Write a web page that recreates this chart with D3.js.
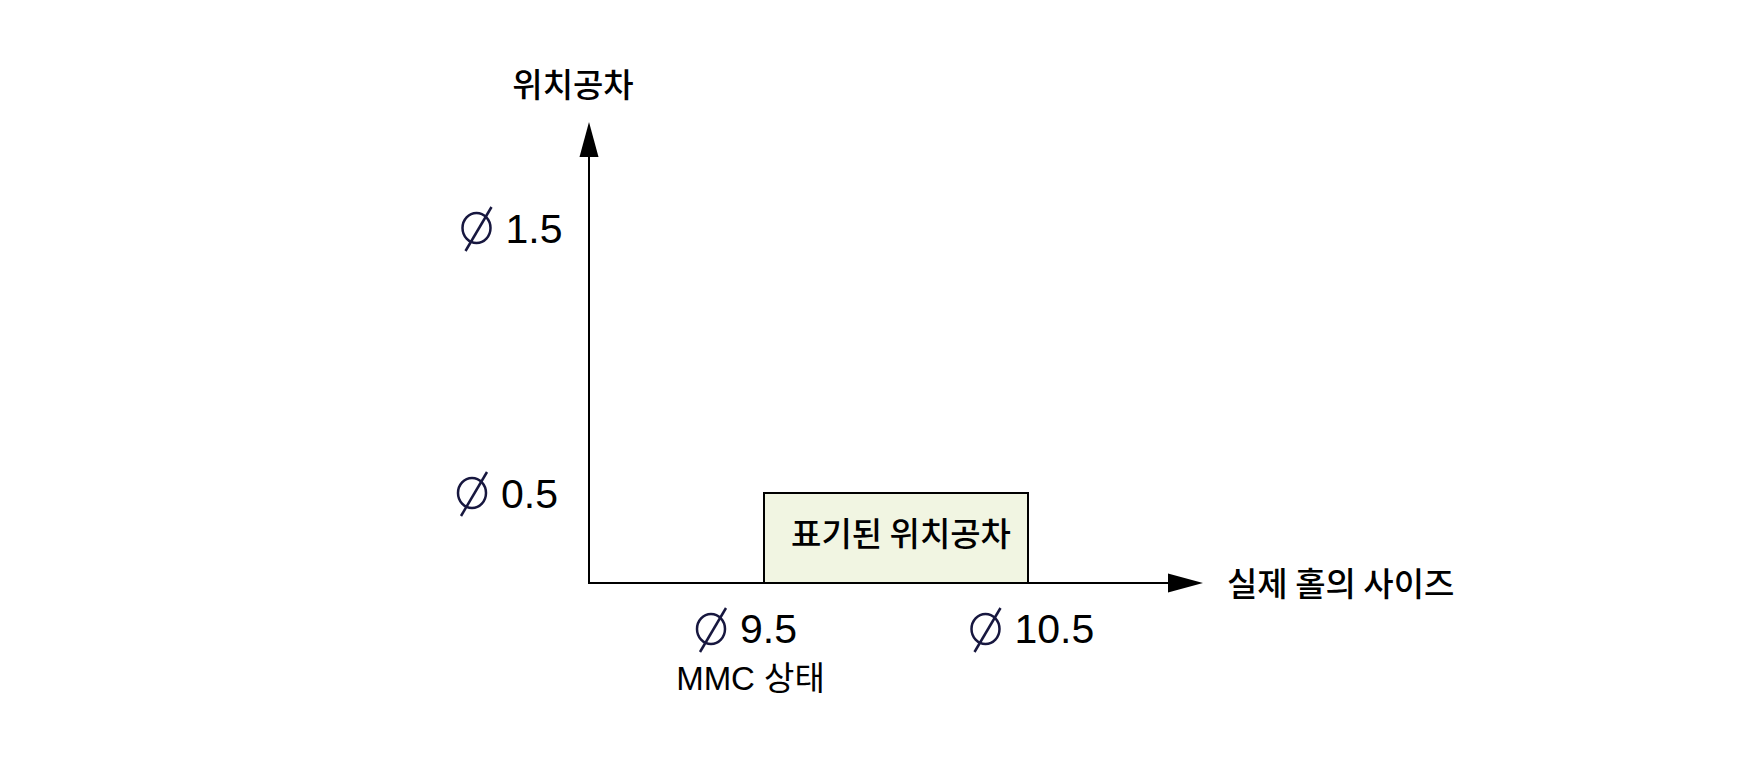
<!DOCTYPE html>
<html>
<head>
<meta charset="utf-8">
<script src="https://cdn.jsdelivr.net/npm/d3@7"></script>
<style>
  html, body { margin: 0; padding: 0; background: #ffffff; }
  svg { display: block; }
</style>
</head>
<body>
<svg id="chart" width="1758" height="780"></svg>
<script>
// ---------- data ----------
const xTicks = [9.5, 10.5];
const xTickLabels = ["9.5", "10.5"];
const yTicks = [0.5, 1.5];
const yTickLabels = ["0.5", "1.5"];
const boxX = [9.5, 10.5];          // stated tolerance zone along hole size
const boxY = [0, 0.5];             // tolerance 0 .. 0.5
const boxLabel = "표기된 위치공차";
const yTitle = "위치공차";
const xTitle = "실제 홀의 사이즈";
const mmcLabel = "MMC 상태";

// ---------- layout ----------
const W = 1758, H = 780;
const originX = 589, originY = 583;
const xTipX = 1203, yTipY = 122;
const arrowLen = 35, arrowHalf = 9.5;
const digitFont = "'Liberation Sans', Arial, sans-serif";
const krFont = "'Noto Sans CJK KR', 'Noto Sans', sans-serif";
const krSize = 33, krWeight = 500;
const digitSize = 41;
const phiColor = "#17173f";

const svg = d3.select("#chart");

const x = d3.scaleLinear().domain([9.5, 10.5]).range([764, 1028]);
const y = d3.scaleLinear().domain([0, 0.5, 1.5]).range([originY, 493, 228]);

// box (tolerance zone)
svg.append("rect")
  .attr("x", x(boxX[0]))
  .attr("y", y(boxY[1]))
  .attr("width", x(boxX[1]) - x(boxX[0]))
  .attr("height", y(boxY[0]) - y(boxY[1]))
  .attr("fill", "#f1f5e2")
  .attr("stroke", "#000")
  .attr("stroke-width", 2);

svg.append("text")
  .attr("x", (x(boxX[0]) + x(boxX[1])) / 2 + 5)
  .attr("y", 546)
  .attr("text-anchor", "middle")
  .attr("font-family", krFont)
  .attr("font-size", krSize)
  .attr("font-weight", krWeight)
  .attr("fill", "#000")
  .text(boxLabel);

// axes with arrowheads
const axisG = svg.append("g");
axisG.append("line")
  .attr("x1", originX).attr("y1", originY)
  .attr("x2", originX).attr("y2", yTipY + arrowLen)
  .attr("stroke", "#000").attr("stroke-width", 2);
axisG.append("path")
  .attr("d", `M${originX},${yTipY} L${originX - arrowHalf},${yTipY + arrowLen} L${originX + arrowHalf},${yTipY + arrowLen} Z`)
  .attr("fill", "#000");
axisG.append("line")
  .attr("x1", originX - 1).attr("y1", originY)
  .attr("x2", xTipX - arrowLen).attr("y2", originY)
  .attr("stroke", "#000").attr("stroke-width", 2);
axisG.append("path")
  .attr("d", `M${xTipX},${originY} L${xTipX - arrowLen},${originY - arrowHalf} L${xTipX - arrowLen},${originY + arrowHalf} Z`)
  .attr("fill", "#000");

// diameter symbol
function phi(g, cx, cy) {
  g.append("ellipse")
    .attr("cx", cx).attr("cy", cy)
    .attr("rx", 14).attr("ry", 15)
    .attr("fill", "none")
    .attr("stroke", phiColor)
    .attr("stroke-width", 2.5);
  g.append("line")
    .attr("x1", cx - 11).attr("y1", cy + 23)
    .attr("x2", cx + 15).attr("y2", cy - 21)
    .attr("stroke", phiColor)
    .attr("stroke-width", 2.5);
}

// y tick labels
const yNudge = [-88, -83.5];
yTicks.forEach((v, i) => {
  const g = svg.append("g").attr("class", "ytick");
  const tx = originX + yNudge[i];
  const cy = y(v);
  phi(g, tx - 29, cy);
  g.append("text")
    .attr("x", tx).attr("y", cy + 14.5)
    .attr("font-family", digitFont)
    .attr("font-size", digitSize)
    .attr("fill", "#000")
    .text(yTickLabels[i]);
});

// x tick labels
const xNudge = [-24, -13.5];
const xLabelCY = 629;
xTicks.forEach((v, i) => {
  const g = svg.append("g").attr("class", "xtick");
  const tx = x(v) + xNudge[i];
  phi(g, tx - 29, xLabelCY);
  g.append("text")
    .attr("x", tx).attr("y", xLabelCY + 14)
    .attr("font-family", digitFont)
    .attr("font-size", digitSize)
    .attr("fill", "#000")
    .text(xTickLabels[i]);
});

// MMC label under first tick
svg.append("text")
  .attr("x", x(xTicks[0]) - 13.5)
  .attr("y", 690)
  .attr("text-anchor", "middle")
  .attr("font-family", "'Liberation Sans', 'Noto Sans CJK KR', sans-serif")
  .attr("font-size", 33)
  .attr("fill", "#000")
  .text(mmcLabel);

// axis titles
svg.append("text")
  .attr("x", originX - 16)
  .attr("y", 97)
  .attr("text-anchor", "middle")
  .attr("font-family", krFont)
  .attr("font-size", krSize)
  .attr("font-weight", krWeight)
  .attr("fill", "#000")
  .text(yTitle);

svg.append("text")
  .attr("x", xTipX + 24)
  .attr("y", 596)
  .attr("font-family", krFont)
  .attr("font-size", krSize)
  .attr("font-weight", krWeight)
  .attr("fill", "#000")
  .text(xTitle);
</script>
</body>
</html>
